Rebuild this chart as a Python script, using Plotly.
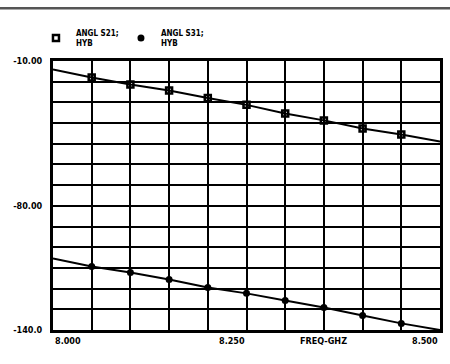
import plotly.graph_objects as go

freq_ghz = [8.00, 8.05, 8.10, 8.15, 8.20, 8.25, 8.30, 8.35, 8.40, 8.45, 8.50]
angle_s21 = [-14.1, -18.0, -21.4, -24.3, -27.9, -31.2, -35.4, -38.7, -42.6, -45.5, -48.9]
angle_s31 = [-105.4, -109.3, -112.2, -115.6, -119.5, -122.3, -125.7, -129.1, -133.0, -136.8, -140.0]
series_names = ["ANGL S21;<br>HYB", "ANGL S31;<br>HYB"]

y_grid = list(range(-10, -141, -10))
y_labeled = {-10: "-10.00", -80: "-80.00", -140: "-140.0"}
x_grid = [8.0 + 0.05 * i for i in range(11)]
x_tick_vals = [8.0, 8.25, 8.5]
x_tick_text = ["8.000", "8.250", "8.500"]
x_tick_anchor = ["left", "right", "right"]
x_axis_title = "FREQ-GHZ"

FONT = "DejaVu Sans Condensed"
inner_x = freq_ghz[1:-1]

fig = go.Figure()
fig.add_trace(go.Scatter(x=freq_ghz, y=angle_s21, mode="lines", showlegend=False,
                         line=dict(color="black", width=2), hoverinfo="skip"))
fig.add_trace(go.Scatter(x=freq_ghz, y=angle_s31, mode="lines", showlegend=False,
                         line=dict(color="black", width=2), hoverinfo="skip"))
fig.add_trace(go.Scatter(
    x=inner_x, y=angle_s21[1:-1], name=series_names[0], mode="markers",
    marker=dict(symbol="square-open", size=6, color="black", line=dict(width=2.5, color="black")),
))
fig.add_trace(go.Scatter(
    x=inner_x, y=angle_s31[1:-1], name=series_names[1], mode="markers",
    marker=dict(symbol="circle", size=7, color="black"),
))

annotations = []
for v, t, a in zip(x_tick_vals, x_tick_text, x_tick_anchor):
    annotations.append(dict(x=v, y=0, xref="x", yref="paper", text=t, showarrow=False,
                            xanchor=a, yanchor="top", yshift=-4,
                            font=dict(family=FONT, size=9, color="black", weight="bold")))
annotations.append(dict(x=8.35, y=0, xref="x", yref="paper", text=x_axis_title, showarrow=False,
                        xanchor="center", yanchor="top", yshift=-4,
                        font=dict(family=FONT, size=9, color="black", weight="bold")))

fig.update_layout(
    width=450, height=364,
    margin=dict(l=53, r=7, t=61, b=34),
    paper_bgcolor="white", plot_bgcolor="white",
    font=dict(family=FONT, size=9, color="black", weight="bold"),
    showlegend=True,
    legend=dict(orientation="h", x=-0.044, y=1.085, xanchor="left", yanchor="middle",
                font=dict(family=FONT, size=8, color="black", weight="bold"),
                itemwidth=30, entrywidth=40, bgcolor="rgba(0,0,0,0)", tracegroupgap=0),
    annotations=annotations,
    shapes=[dict(type="line", xref="paper", yref="paper", x0=-0.2, x1=1.2,
                 y0=1.196, y1=1.196, line=dict(color="#555555", width=2.5))],
)
fig.update_xaxes(range=[8.0, 8.5], tickmode="array", tickvals=x_grid,
                 ticktext=[""] * len(x_grid), showgrid=True, gridcolor="black", gridwidth=2,
                 showline=True, linecolor="black", linewidth=3, mirror=True, zeroline=False)
fig.update_yaxes(range=[-140, -10], tickmode="array", tickvals=y_grid,
                 ticktext=[y_labeled.get(v, "") for v in y_grid], showgrid=True,
                 gridcolor="black", gridwidth=2, showline=True, linecolor="black", linewidth=3,
                 mirror=True, zeroline=False, ticks="", ticklabelstandoff=6)

fig.write_html("out.html", post_script="document.body.style.margin='0';",
               config={"displayModeBar": False})
